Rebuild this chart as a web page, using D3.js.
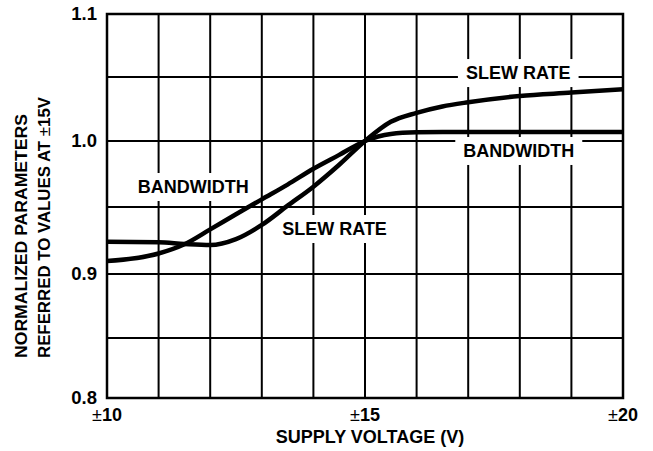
<!DOCTYPE html>
<html>
<head>
<meta charset="utf-8">
<script src="https://cdn.jsdelivr.net/npm/d3@7"></script>
<style>
  body { margin: 0; background: #fff; }
  text { font-family: "Liberation Sans", Arial, sans-serif; font-weight: bold; fill: #000; }
</style>
</head>
<body>
<div id="chart"></div>
<script>
// ---- data ----
const voltage   = [10, 11, 11.5, 12, 12.5, 13, 13.5, 14, 14.5, 15, 15.5, 16, 16.5, 17, 18, 19, 20];
const bandwidth = [0.9097, 0.9153, 0.9222, 0.9333, 0.9446, 0.9558, 0.967, 0.979, 0.9895, 1.0, 1.0055, 1.0068, 1.007, 1.007, 1.007, 1.007, 1.007];
const slewRate  = [0.924, 0.9237, 0.9224, 0.9216, 0.926, 0.9366, 0.951, 0.9654, 0.982, 1.0, 1.015, 1.022, 1.027, 1.0303, 1.0352, 1.0378, 1.0405];

const xGrid = d3.range(10, 20.01, 1);
const yGrid = [0.8, 0.85, 0.9, 0.95, 1.0, 1.05, 1.1];
const xTicks = [10, 15, 20];
const yTicks = [0.8, 0.9, 1.0, 1.1];

// curve labels: [text, voltage, value] at label centre / baseline
const labels = [
  ["SLEW RATE", 17.97, 1.0484],
  ["BANDWIDTH", 17.98, 0.9879],
  ["BANDWIDTH", 11.67, 0.9606],
  ["SLEW RATE", 14.41, 0.9291]
];

const W = 653, H = 451;
const mLeft = 107, mRight = 623, mTop = 14, mBottom = 398;

const svg = d3.select("#chart").append("svg")
    .attr("width", W)
    .attr("height", H);

const x = d3.scaleLinear().domain([10, 20]).range([mLeft, mRight]);
// the printed grid is slightly uneven, so map each gridline
const y = d3.scaleLinear().domain(yGrid).range([398, 338, 274, 207, 141, 77, 14]);

// grid
svg.append("g").selectAll("line").data(xGrid).join("line")
    .attr("x1", d => x(d)).attr("x2", d => x(d))
    .attr("y1", mTop).attr("y2", mBottom)
    .attr("stroke", "#000").attr("stroke-width", 2);
svg.append("g").selectAll("line").data(yGrid).join("line")
    .attr("x1", mLeft).attr("x2", mRight)
    .attr("y1", d => y(d)).attr("y2", d => y(d))
    .attr("stroke", "#000").attr("stroke-width", 2);

// label boxes knock out the grid
const lab = svg.append("g");
labels.forEach(([t, v, val]) => {
    const g = lab.append("g");
    const txt = g.append("text")
        .attr("x", x(v)).attr("y", y(val))
        .attr("text-anchor", "middle")
        .attr("font-size", 18)
        .text(t);
    const b = txt.node().getBBox();
    g.insert("rect", "text")
        .attr("x", b.x - 8).attr("y", b.y - 4)
        .attr("width", b.width + 16).attr("height", b.height + 8)
        .attr("fill", "#fff");
});

// curves
const line = d3.line()
    .x(d => x(d[0]))
    .y(d => y(d[1]))
    .curve(d3.curveMonotoneX);

[bandwidth, slewRate].forEach(s => {
    svg.append("path")
        .datum(voltage.map((v, i) => [v, s[i]]))
        .attr("d", line)
        .attr("fill", "none")
        .attr("stroke", "#000")
        .attr("stroke-width", 4.5)
        .attr("stroke-linejoin", "round");
});

// frame
svg.append("rect")
    .attr("x", mLeft).attr("y", mTop)
    .attr("width", mRight - mLeft).attr("height", mBottom - mTop)
    .attr("fill", "none").attr("stroke", "#000").attr("stroke-width", 2.5);

// tick labels
svg.append("g").selectAll("text").data(yTicks).join("text")
    .attr("x", 97).attr("y", d => y(d))
    .attr("dy", "0.33em")
    .attr("text-anchor", "end")
    .attr("font-size", 18.5)
    .text(d => d.toFixed(1));

const xt = svg.append("g").selectAll("text").data(xTicks).join("text")
    .attr("x", d => x(d)).attr("y", 421)
    .attr("text-anchor", "middle")
    .attr("font-size", 18);
xt.append("tspan").attr("font-weight", "normal").text("±");
xt.append("tspan").text(d => d);

// axis titles
svg.append("text")
    .attr("x", 370).attr("y", 443)
    .attr("text-anchor", "middle")
    .attr("font-size", 18)
    .text("SUPPLY VOLTAGE (V)");

svg.append("text")
    .attr("transform", "translate(27,358) rotate(-90)")
    .attr("font-size", 17)
    .attr("textLength", 244)
    .attr("lengthAdjust", "spacingAndGlyphs")
    .text("NORMALIZED PARAMETERS");
const yt2 = svg.append("text")
    .attr("transform", "translate(50,358) rotate(-90)")
    .attr("font-size", 17)
    .attr("textLength", 261)
    .attr("lengthAdjust", "spacingAndGlyphs");
yt2.append("tspan").text("REFERRED TO VALUES AT ");
yt2.append("tspan").attr("font-weight", "normal").text("±");
yt2.append("tspan").text("15V");
</script>
</body>
</html>
